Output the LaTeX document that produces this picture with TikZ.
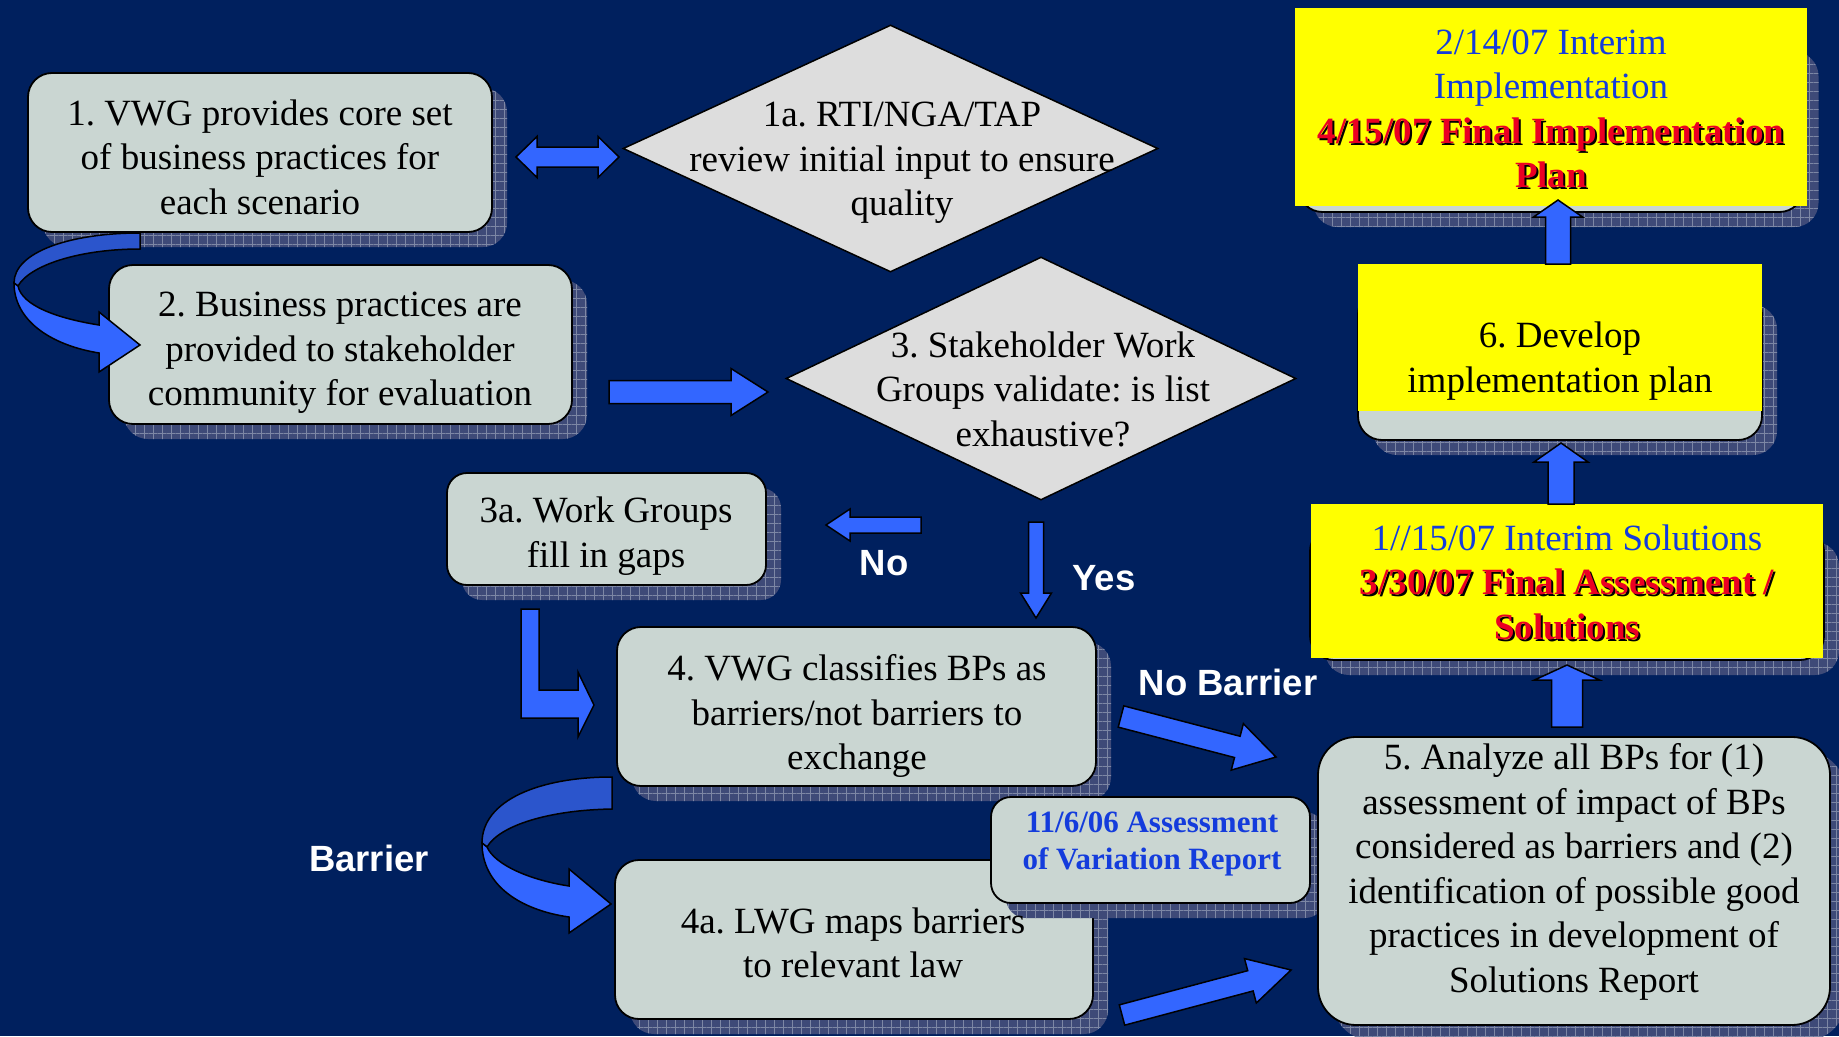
\documentclass[tikz,border=0pt]{standalone}
\usepackage{fontspec}
\setmainfont{Liberation Serif}
\newfontfamily\labelfont{Liberation Sans}
\usetikzlibrary{shapes.geometric,shadows,patterns.meta,calc}
\frenchspacing

\definecolor{bgc}{RGB}{0,32,94}
\definecolor{boxc}{RGB}{202,214,210}
\definecolor{diac}{RGB}{221,221,221}
\definecolor{arrc}{RGB}{51,102,255}
\definecolor{arrd}{RGB}{43,85,204}
\definecolor{shc}{RGB}{62,74,120}
\definecolor{shg}{RGB}{125,135,165}
\definecolor{bluetxt}{RGB}{20,60,220}
\definecolor{redtxt}{RGB}{235,0,35}
\definecolor{yel}{RGB}{255,255,0}

\newcommand\redsh[1]{\leavevmode\rlap{\kern2pt\raisebox{-2pt}{\textcolor{black}{#1}}}\textcolor{redtxt}{#1}}

% start, end, shaft half width, head half width, head length, name
\newcommand\blockarrow[6]{%
  \coordinate (#6h) at ($(#2)!#5!(#1)$);
  \draw[arrowstyle] ($(#1)!#3!90:(#2)$) -- ($(#6h)!#3!90:(#2)$) -- ($(#6h)!#4!90:(#2)$)
    -- (#2) -- ($(#6h)!#4!-90:(#2)$) -- ($(#6h)!#3!-90:(#2)$) -- ($(#1)!#3!-90:(#2)$) -- cycle;
}

\tikzset{
  shadowed/.style={
    general shadow={shadow xshift=15pt, shadow yshift=-15pt, fill=shc},
    general shadow={shadow xshift=15pt, shadow yshift=-15pt,
      pattern={Hatch[angle=0,distance=9pt,line width=0.7pt]}, pattern color=shg}},
  box/.style={draw=black, line width=1.8pt, fill=boxc, rounded corners=24pt,
    inner sep=0pt, shadowed},
  dia/.style={diamond, draw=black, line width=1.5pt, fill=diac, inner sep=0pt},
  yelbox/.style={fill=yel, draw=none, inner sep=0pt, rectangle},
  txt/.style={align=center, font=\fontsize{37}{44.5}\selectfont, inner sep=0pt, text=black},
  lbl/.style={font=\labelfont\bfseries\fontsize{36.5}{40}\selectfont, text=white, inner sep=0pt},
  arrowstyle/.style={draw=black, line width=1.5pt, fill=arrc, line join=miter},
  darkband/.style={draw=black, line width=1.5pt, fill=arrd},
}

\begin{document}
\begin{tikzpicture}[x=1pt,y=-1pt]
\useasboundingbox (0,0) rectangle (1839,1036);
\fill[bgc] (0,0) rectangle (1839,1036);

% boxes
\node[box, minimum width=464pt, minimum height=159pt] (b1) at (260,152.5) {};
\node[box, minimum width=463pt, minimum height=159pt] (b2) at (340.5,344.5) {};
\node[box, rounded corners=20pt, minimum width=319pt, minimum height=112pt] (b3a) at (606.5,529) {};
\node[box, minimum width=479pt, minimum height=159pt] (b4) at (856.5,706.5) {};
\node[box, minimum width=478pt, minimum height=159pt] (b4a) at (854,939.5) {};
\node[box, rounded corners=20pt, minimum width=319pt, minimum height=106pt] (av) at (1150.5,850) {};
\node[box, rounded corners=38pt, minimum width=512pt, minimum height=288pt] (b5) at (1574,881) {};

% gray boxes behind the yellow panels
\node[box, minimum width=505pt, minimum height=175pt] (gt) at (1551,124.5) {};
\node[box, minimum width=404pt, minimum height=150pt] (g6) at (1560,365) {};
\node[box, minimum width=514pt, minimum height=133pt] (g1) at (1567,593.5) {};

% yellow panels
\node[yelbox, minimum width=512pt, minimum height=198pt] (yt) at (1551,107) {};
\node[yelbox, minimum width=404pt, minimum height=147pt] (y6) at (1560,337.5) {};
\node[yelbox, minimum width=512pt, minimum height=154pt] (y1) at (1567,581) {};

% diamonds
\node[dia, minimum width=535pt, minimum height=247pt] (d1a) at (890.5,148.5) {};
\node[dia, minimum width=510pt, minimum height=243pt] (d3) at (1041,378.5) {};

% curved arrow 1 -> 2
\draw[darkband] (140,233) .. controls (70,233) and (14,252) .. (14,283) -- (18,286)
  .. controls (30,265) and (80,249) .. (140,249) -- cycle;
\draw[arrowstyle] (14,283) .. controls (14,320) and (50,345) .. (99,353) -- (99,372) -- (140,345)
  -- (99,312) -- (99,325) .. controls (55,318) and (22,305) .. (18,286) -- cycle;

% curved arrow 4 -> 4a (Barrier)
\draw[darkband] (612,777) .. controls (540,777) and (482,800) .. (482,843) -- (487,847)
  .. controls (500,825) and (550,810) .. (612,809) -- cycle;
\draw[arrowstyle] (482,843) .. controls (482,885) and (520,910) .. (569,917) -- (569,933) -- (611,904)
  -- (569,869) -- (569,886) .. controls (530,880) and (495,865) .. (487,847) -- cycle;

% double arrow 1 <-> 1a
\coordinate (dl) at (516,157);
\coordinate (dr) at (619,157);
\draw[arrowstyle] (dl) -- ($(dl)+(21,-20.5)$) -- ($(dl)+(21,-10)$) -- ($(dr)+(-21,-10)$)
  -- ($(dr)+(-21,-20.5)$) -- (dr) -- ($(dr)+(-21,20.5)$) -- ($(dr)+(-21,10)$)
  -- ($(dl)+(21,10)$) -- ($(dl)+(21,20.5)$) -- cycle;

% straight block arrows
\coordinate (a2s) at (609,392);   \coordinate (a2e) at (768,392);
\blockarrow{a2s}{a2e}{11.5pt}{23.5pt}{37pt}{a2}
\coordinate (ans) at (921,525);   \coordinate (ane) at (826,525);
\blockarrow{ans}{ane}{8pt}{16pt}{24pt}{an}
\coordinate (ays) at (1036,522);  \coordinate (aye) at (1036,618);
\blockarrow{ays}{aye}{7.5pt}{15.5pt}{25pt}{ay}
\coordinate (nbs) at (1121,716.5); \coordinate (nbe) at (1276,757);
\blockarrow{nbs}{nbe}{11pt}{24pt}{40pt}{nb}
\coordinate (lws) at (1122,1015); \coordinate (lwe) at (1291,970);
\blockarrow{lws}{lwe}{10.5pt}{23pt}{42pt}{lw}
\coordinate (r1s) at (1567,727);  \coordinate (r1e) at (1567,665);
\blockarrow{r1s}{r1e}{15.5pt}{32.5pt}{15pt}{r1}
\coordinate (r2s) at (1561,504);  \coordinate (r2e) at (1561,443);
\blockarrow{r2s}{r2e}{13pt}{27pt}{19pt}{r2}
\coordinate (r3s) at (1558,264);  \coordinate (r3e) at (1558,200);
\blockarrow{r3s}{r3e}{12.5pt}{24.5pt}{17pt}{r3}

% bent arrow 3a -> 4
\draw[arrowstyle] (521,609) -- (539,609) -- (539,690) -- (578,690) -- (578,672) -- (594,705)
  -- (578,737) -- (578,718) -- (521,718) -- cycle;

% texts
\node[txt] (b1t) at (260,157) {1. VWG provides core set\\of business practices for\\each scenario};
\node[txt] (b2t) at (340,353) {2. Business practices are\\provided to stakeholder\\community for evaluation};
\node[txt] (d1at) at (902,163) {1a. RTI/NGA/TAP\\review initial input to ensure\\quality};
\node[txt] (d3t) at (1043,389) {3. Stakeholder Work\\Groups validate: is list\\exhaustive?};
\node[txt] (b3at) at (606,536) {3a. Work Groups\\fill in gaps};
\node[txt] (b4t) at (857,716) {4. VWG classifies BPs as\\barriers/not barriers to\\exchange};
\node[txt] (b4at) at (853,943) {4a. LWG maps barriers\\to relevant law};
\node[txt, font=\bfseries\fontsize{31}{37.5}\selectfont, text=bluetxt] (avt) at (1152,844)
  {11/6/06 Assessment\\of Variation Report};
\node[txt] (b5t) at (1574,872) {5. Analyze all BPs for (1)\\assessment of impact of BPs\\considered as barriers and (2)\\identification of possible good\\practices in development of\\Solutions Report};
\node[txt] (ytt) at (1551,110) {{\color{bluetxt}2/14/07 Interim}\\{\color{bluetxt}Implementation}\\\redsh{\bfseries 4/15/07 Final Implementation}\\\redsh{\bfseries Plan}};
\node[txt] (y6t) at (1560,361) {6. Develop\\implementation plan};
\node[txt] (y1t) at (1567,583) {{\color{bluetxt}1//15/07 Interim Solutions}\\\redsh{\bfseries 3/30/07 Final Assessment /}\\\redsh{\bfseries Solutions}};

% labels
\node[lbl] (lno) at (884,563) {No};
\node[lbl] (lyes) at (1104,578) {Yes};
\node[lbl] (lnob) at (1228,682) {No Barrier};
\node[lbl] (lbar) at (369,858) {Barrier};
\end{tikzpicture}
\end{document}
